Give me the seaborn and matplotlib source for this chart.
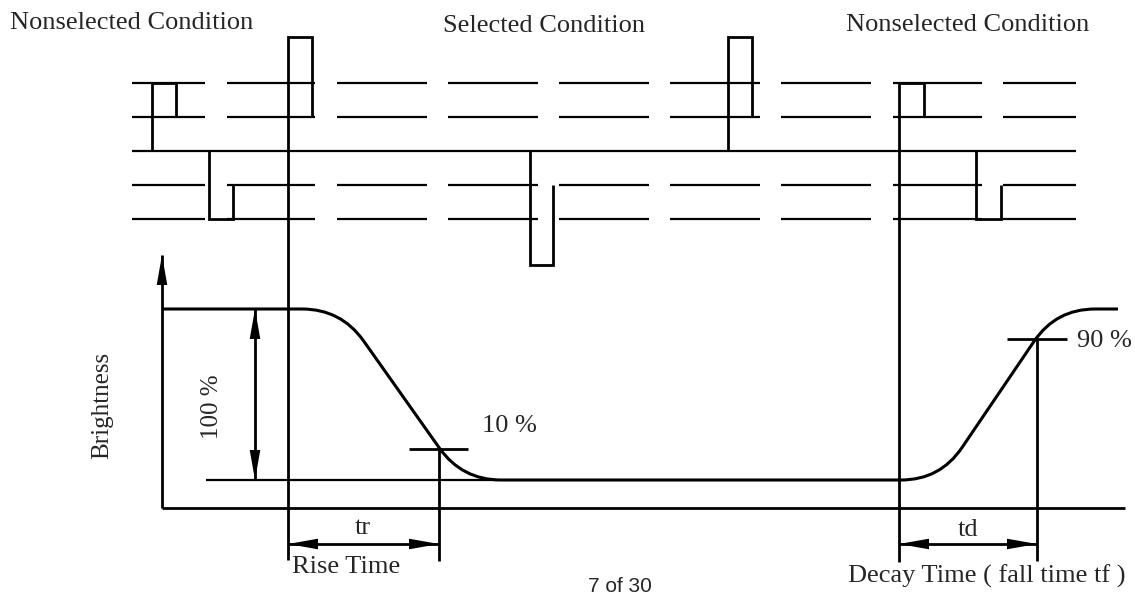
import numpy as np
import pandas as pd
import matplotlib
matplotlib.use("Agg")
import matplotlib.pyplot as plt
import seaborn as sns
from matplotlib.path import Path
from matplotlib.patches import PathPatch

# ---------------- data (diagram coordinates, pixel-like units) ----------------
dash_levels = [83, 117, 185, 219]
mid_level = 151
dash_start = [132, 227, 337, 448, 559, 670, 781, 893, 1003]
dash_end = [205, 315, 427, 538, 649, 760, 871, 982, 1076]
mid_line_x = [132, 1076]

# drive waveforms (x list, y list)
pulse_nonsel_top_l_x = [152, 152, 176, 176]
pulse_nonsel_top_l_y = [151, 83, 83, 117]
pulse_nonsel_bot_l_x = [209, 209, 233, 233]
pulse_nonsel_bot_l_y = [151, 219, 219, 185]
pulse_sel_up1_x = [288, 288, 312, 312]
pulse_sel_up1_y = [560, 37, 37, 117]
pulse_sel_down_x = [530, 530, 553, 553]
pulse_sel_down_y = [151, 265, 265, 185]
pulse_sel_up2_x = [728, 728, 752, 752]
pulse_sel_up2_y = [151, 37, 37, 117]
pulse_nonsel_top_r_x = [899, 899, 924, 924]
pulse_nonsel_top_r_y = [562, 83, 83, 117]
pulse_nonsel_bot_r_x = [976, 976, 1001, 1001]
pulse_nonsel_bot_r_y = [151, 219, 219, 185]

# brightness response curve: knee points of the trace (corners get rounded)
bright_knee_x = [162, 341, 462, 940, 1056, 1118]
bright_knee_y = [309, 309, 480, 480, 309, 309]
bright_round = 39

# axes of the brightness plot
x_axis_x = [162, 1125]
x_axis_y = [508, 508]
zero_ref_x = [206, 497]
zero_ref_y = [480, 480]

# markers
mark10_x = [409, 468]
mark10_y = 449
mark10_drop_x = 439
mark90_x = [1007, 1067]
mark90_y = 339
mark90_drop_x = 1037
drop_bottom = 561

tr_arrow = [288, 439]
td_arrow = [899, 1037]
time_arrow_y = 544
pct_arrow_x = 255
pct_arrow_y = [309, 480]
y_axis_arrow = [508, 255]
y_axis_x = 162

# ---------------- build tables ----------------
thin_rows = []
seg = 0
for lv in dash_levels:
    for a, b in zip(dash_start, dash_end):
        thin_rows += [(seg, a, lv), (seg, b, lv)]
        seg += 1
thin_rows += [(seg, mid_line_x[0], mid_level), (seg, mid_line_x[1], mid_level)]
seg += 1
thin_rows += [(seg, zero_ref_x[0], zero_ref_y[0]), (seg, zero_ref_x[1], zero_ref_y[1])]
thin_df = pd.DataFrame(thin_rows, columns=["seg", "x", "y"])

thick_groups = [
    (pulse_nonsel_top_l_x, pulse_nonsel_top_l_y),
    (pulse_nonsel_bot_l_x, pulse_nonsel_bot_l_y),
    (pulse_sel_up1_x, pulse_sel_up1_y),
    (pulse_sel_down_x, pulse_sel_down_y),
    (pulse_sel_up2_x, pulse_sel_up2_y),
    (pulse_nonsel_top_r_x, pulse_nonsel_top_r_y),
    (pulse_nonsel_bot_r_x, pulse_nonsel_bot_r_y),
    (x_axis_x, x_axis_y),
    (mark10_x, [mark10_y, mark10_y]),
    ([mark10_drop_x, mark10_drop_x], [mark10_y, drop_bottom]),
    (mark90_x, [mark90_y, mark90_y]),
    ([mark90_drop_x, mark90_drop_x], [mark90_y, drop_bottom]),
    ([y_axis_x, y_axis_x], y_axis_arrow),
    ([pct_arrow_x, pct_arrow_x], pct_arrow_y),
    (tr_arrow, [time_arrow_y, time_arrow_y]),
    (td_arrow, [time_arrow_y, time_arrow_y]),
]
thick_rows = []
for i, (xs, ys) in enumerate(thick_groups):
    for x, y in zip(xs, ys):
        thick_rows.append((i, x, y))
thick_df = pd.DataFrame(thick_rows, columns=["seg", "x", "y"])

# ---------------- draw ----------------
sns.set_theme(style="white")
plt.rcParams["font.family"] = ["Liberation Serif", "DejaVu Serif"]
plt.rcParams["lines.solid_joinstyle"] = "miter"
plt.rcParams["lines.solid_capstyle"] = "butt"

fig = plt.figure(figsize=(11.35, 5.95), dpi=100)
ax = fig.add_axes([0, 0, 1, 1])

sns.lineplot(data=thin_df, x="x", y="y", units="seg", estimator=None, sort=False,
             color="black", linewidth=1.6, ax=ax, legend=False)
sns.lineplot(data=thick_df, x="x", y="y", units="seg", estimator=None, sort=False,
             color="black", linewidth=2.0, ax=ax, legend=False)

# brightness curve with rounded corners (quadratic Bezier at each knee)
kx = np.array(bright_knee_x, float)
ky = np.array(bright_knee_y, float)
verts = [(kx[0], ky[0])]
codes = [Path.MOVETO]
for i in range(1, len(kx) - 1):
    p = np.array([kx[i], ky[i]])
    a = np.array([kx[i - 1], ky[i - 1]])
    b = np.array([kx[i + 1], ky[i + 1]])
    da = (a - p) / np.linalg.norm(a - p)
    db = (b - p) / np.linalg.norm(b - p)
    s = p + da * bright_round
    e = p + db * bright_round
    verts += [tuple(s), tuple(p), tuple(e)]
    codes += [Path.LINETO, Path.CURVE3, Path.CURVE3]
verts.append((kx[-1], ky[-1]))
codes.append(Path.LINETO)
ax.add_patch(PathPatch(Path(verts, codes), fill=False, edgecolor="black", lw=2.2,
                       capstyle="butt"))

ax.set_xlim(0, 1135)
ax.set_ylim(595, 0)
ax.axis("off")

HEAD_L, HEAD_W = 30, 5.3

def head(tip, toward):
    tip = np.array(tip, float)
    d = tip - np.array(toward, float)
    d /= np.linalg.norm(d)
    n = np.array([-d[1], d[0]])
    base = tip - d * HEAD_L
    pts = np.array([tip, base + n * HEAD_W, base - n * HEAD_W])
    ax.fill(pts[:, 0], pts[:, 1], color="black", lw=0, zorder=5)

head((y_axis_x, y_axis_arrow[1]), (y_axis_x, y_axis_arrow[0]))
head((pct_arrow_x, pct_arrow_y[0]), (pct_arrow_x, pct_arrow_y[1]))
head((pct_arrow_x, pct_arrow_y[1]), (pct_arrow_x, pct_arrow_y[0]))
head((tr_arrow[0], time_arrow_y), (tr_arrow[1], time_arrow_y))
head((tr_arrow[1], time_arrow_y), (tr_arrow[0], time_arrow_y))
head((td_arrow[0], time_arrow_y), (td_arrow[1], time_arrow_y))
head((td_arrow[1], time_arrow_y), (td_arrow[0], time_arrow_y))

fs = 19
ax.text(10, 29, "Nonselected Condition", fontsize=fs, ha="left", va="baseline")
ax.text(443, 32, "Selected Condition", fontsize=fs, ha="left", va="baseline")
ax.text(846, 31, "Nonselected Condition", fontsize=fs, ha="left", va="baseline")
ax.text(102, 405, "Brightness", fontsize=18, rotation=90, ha="center", va="center",
        rotation_mode="anchor")
ax.text(212, 407, "100 %", fontsize=18, rotation=90, ha="center", va="center",
        rotation_mode="anchor")
ax.text(482, 432, "10 %", fontsize=fs, ha="left", va="baseline")
ax.text(1077, 347, "90 %", fontsize=fs, ha="left", va="baseline")
ax.text(363, 534, "tr", fontsize=fs, ha="center", va="baseline")
ax.text(968, 536, "td", fontsize=fs, ha="center", va="baseline")
ax.text(292, 573, "Rise Time", fontsize=fs, ha="left", va="baseline")
ax.text(848, 583, "Decay Time ( fall time tf )", fontsize=fs, ha="left", va="baseline")
ax.text(620, 592, "7 of 30", fontsize=15, ha="center", va="baseline",
        family=["Liberation Sans", "DejaVu Sans"])

fig.savefig("out.png", dpi=100)
